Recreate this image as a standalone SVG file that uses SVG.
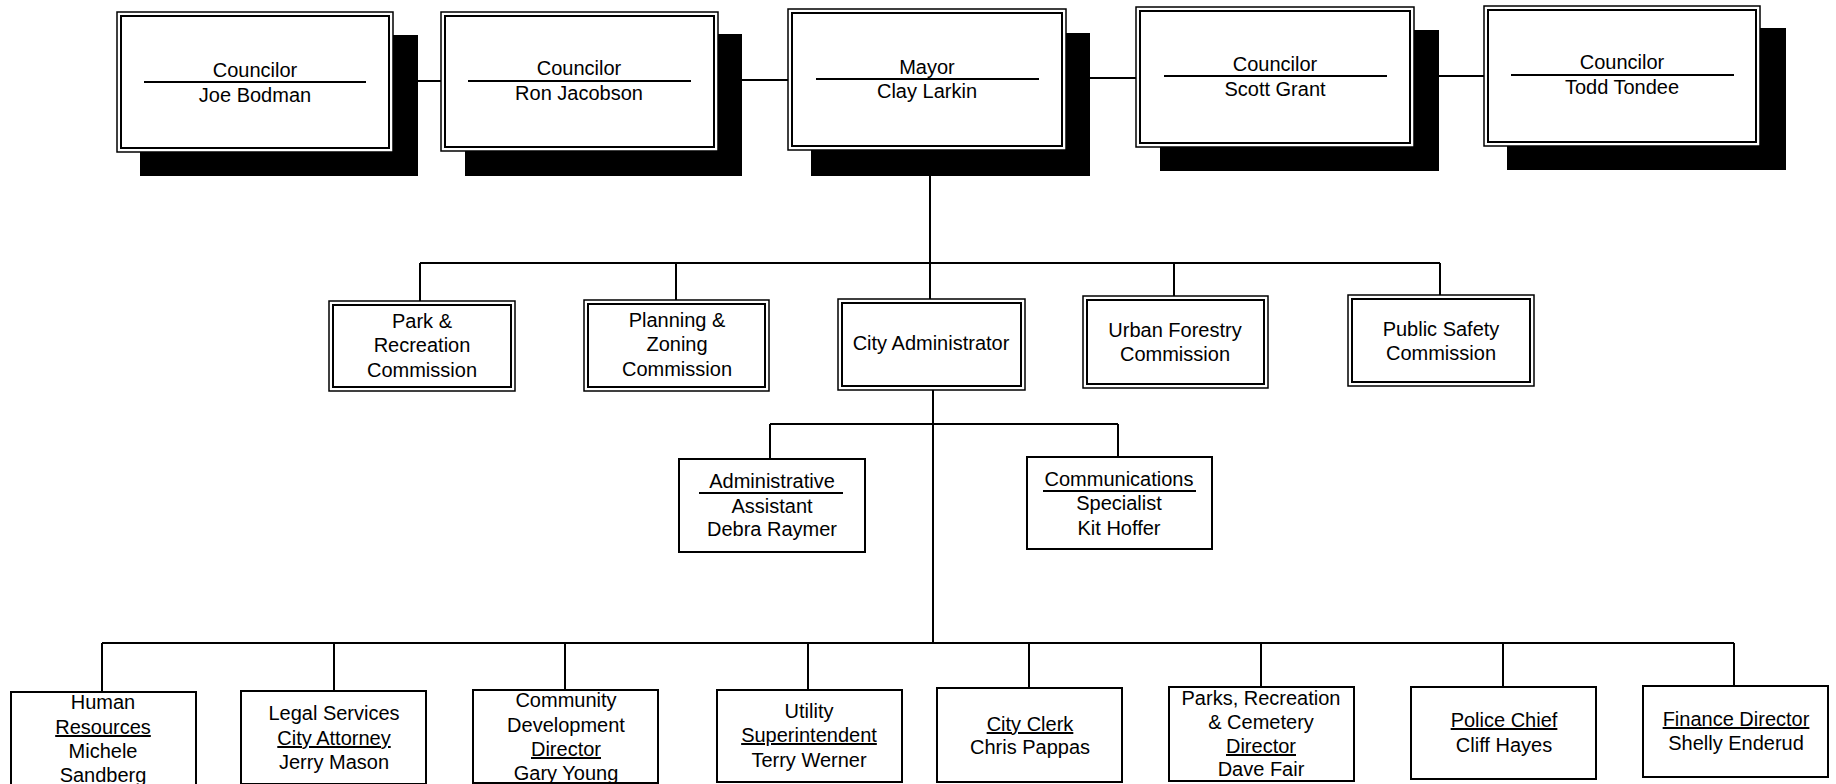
<svg xmlns="http://www.w3.org/2000/svg" width="1836" height="784" viewBox="0 0 1836 784">
<style>
.bg{fill:#fff}
.shadow{fill:#000}
.outer{fill:#fff;stroke:#000;stroke-width:1.5}
.inner{fill:none;stroke:#000;stroke-width:2}
.box{fill:#fff;stroke:#000;stroke-width:2}
.rule{stroke:#000;stroke-width:2}
.conn{fill:none;stroke:#000;stroke-width:2}
text{font-family:"Liberation Sans",Arial,sans-serif;font-size:20px;fill:#000;text-anchor:middle}
.u{text-decoration:underline}
</style>
<rect class="bg" x="0" y="0" width="1836" height="784"/>
<g id="connectors">
<line class="conn" x1="393" y1="81" x2="441" y2="81"/>
<line class="conn" x1="718" y1="80" x2="788" y2="80"/>
<line class="conn" x1="1066" y1="78" x2="1136" y2="78"/>
<line class="conn" x1="1414" y1="76" x2="1484" y2="76"/>
<line class="conn" x1="930" y1="176" x2="930" y2="263"/>
<line class="conn" x1="420" y1="263" x2="1440" y2="263"/>
<line class="conn" x1="420" y1="263" x2="420" y2="301"/>
<line class="conn" x1="676" y1="263" x2="676" y2="300"/>
<line class="conn" x1="930" y1="263" x2="930" y2="299"/>
<line class="conn" x1="1174" y1="263" x2="1174" y2="296"/>
<line class="conn" x1="1440" y1="263" x2="1440" y2="295"/>
<line class="conn" x1="933" y1="390" x2="933" y2="643"/>
<line class="conn" x1="770" y1="424" x2="1118" y2="424"/>
<line class="conn" x1="770" y1="424" x2="770" y2="459"/>
<line class="conn" x1="1118" y1="424" x2="1118" y2="457"/>
<line class="conn" x1="102" y1="643" x2="1734" y2="643"/>
<line class="conn" x1="102" y1="643" x2="102" y2="692"/>
<line class="conn" x1="334" y1="643" x2="334" y2="691"/>
<line class="conn" x1="565" y1="643" x2="565" y2="690"/>
<line class="conn" x1="808" y1="643" x2="808" y2="690"/>
<line class="conn" x1="1029" y1="643" x2="1029" y2="688"/>
<line class="conn" x1="1261" y1="643" x2="1261" y2="687"/>
<line class="conn" x1="1503" y1="643" x2="1503" y2="687"/>
<line class="conn" x1="1734" y1="643" x2="1734" y2="686"/>
</g>
<g id="councilor-joe-bodman">
<rect class="shadow" x="140" y="35" width="278" height="141"/>
<rect class="outer" x="117" y="12" width="276" height="140"/>
<rect class="inner" x="121" y="16" width="268" height="132"/>
<text x="255" y="77">Councilor</text>
<line class="rule" x1="144" y1="82" x2="366" y2="82"/>
<text x="255" y="102">Joe Bodman</text>
</g>
<g id="councilor-ron-jacobson">
<rect class="shadow" x="465" y="34" width="277" height="142"/>
<rect class="outer" x="441" y="12" width="277" height="139"/>
<rect class="inner" x="445" y="16" width="269" height="131"/>
<text x="579" y="75">Councilor</text>
<line class="rule" x1="468" y1="81" x2="691" y2="81"/>
<text x="579" y="100">Ron Jacobson</text>
</g>
<g id="mayor-clay-larkin">
<rect class="shadow" x="811" y="33" width="279" height="143"/>
<rect class="outer" x="788" y="9" width="278" height="141"/>
<rect class="inner" x="792" y="13" width="270" height="133"/>
<text x="927" y="74">Mayor</text>
<line class="rule" x1="816" y1="79" x2="1039" y2="79"/>
<text x="927" y="98">Clay Larkin</text>
</g>
<g id="councilor-scott-grant">
<rect class="shadow" x="1160" y="30" width="279" height="141"/>
<rect class="outer" x="1136" y="7" width="278" height="140"/>
<rect class="inner" x="1140" y="11" width="270" height="132"/>
<text x="1275" y="71">Councilor</text>
<line class="rule" x1="1164" y1="76" x2="1387" y2="76"/>
<text x="1275" y="96">Scott Grant</text>
</g>
<g id="councilor-todd-tondee">
<rect class="shadow" x="1507" y="28" width="279" height="142"/>
<rect class="outer" x="1484" y="6" width="276" height="140"/>
<rect class="inner" x="1488" y="10" width="268" height="132"/>
<text x="1622" y="69">Councilor</text>
<line class="rule" x1="1511" y1="75" x2="1734" y2="75"/>
<text x="1622" y="94">Todd Tondee</text>
</g>
<g id="park-recreation-commission">
<rect class="outer" x="329" y="301" width="186" height="90"/>
<rect class="inner" x="333" y="305" width="178" height="82"/>
<text x="422" y="328">Park &amp;</text>
<text x="422" y="352">Recreation</text>
<text x="422" y="377">Commission</text>
</g>
<g id="planning-zoning-commission">
<rect class="outer" x="584" y="300" width="185" height="91"/>
<rect class="inner" x="588" y="304" width="177" height="83"/>
<text x="677" y="327">Planning &amp;</text>
<text x="677" y="351">Zoning</text>
<text x="677" y="376">Commission</text>
</g>
<g id="city-administrator">
<rect class="outer" x="838" y="299" width="187" height="91"/>
<rect class="inner" x="842" y="303" width="179" height="83"/>
<text x="931" y="350">City Administrator</text>
</g>
<g id="urban-forestry-commission">
<rect class="outer" x="1083" y="296" width="185" height="92"/>
<rect class="inner" x="1087" y="300" width="177" height="84"/>
<text x="1175" y="337">Urban Forestry</text>
<text x="1175" y="361">Commission</text>
</g>
<g id="public-safety-commission">
<rect class="outer" x="1348" y="295" width="186" height="91"/>
<rect class="inner" x="1352" y="299" width="178" height="83"/>
<text x="1441" y="336">Public Safety</text>
<text x="1441" y="360">Commission</text>
</g>
<g id="administrative-assistant">
<rect class="box" x="679" y="459" width="186" height="93"/>
<text x="772" y="488">Administrative</text>
<line class="rule" x1="699" y1="493" x2="843" y2="493"/>
<text x="772" y="513">Assistant</text>
<text x="772" y="536">Debra Raymer</text>
</g>
<g id="communications-specialist">
<rect class="box" x="1027" y="457" width="185" height="92"/>
<text x="1119" y="486">Communications</text>
<line class="rule" x1="1043" y1="491" x2="1196" y2="491"/>
<text x="1119" y="510">Specialist</text>
<text x="1119" y="535">Kit Hoffer</text>
</g>
<g id="human-resources">
<rect class="box" x="11" y="692" width="185" height="96"/>
<text x="103" y="709">Human</text>
<text class="u" x="103" y="734">Resources</text>
<text x="103" y="758">Michele</text>
<text x="103" y="782">Sandberg</text>
</g>
<g id="legal-services">
<rect class="box" x="241" y="691" width="185" height="93"/>
<text x="334" y="720">Legal Services</text>
<text class="u" x="334" y="745">City Attorney</text>
<text x="334" y="769">Jerry Mason</text>
</g>
<g id="community-development">
<rect class="box" x="473" y="690" width="185" height="93"/>
<text x="566" y="707">Community</text>
<text x="566" y="732">Development</text>
<text class="u" x="566" y="756">Director</text>
<text x="566" y="780">Gary Young</text>
</g>
<g id="utility-superintendent">
<rect class="box" x="717" y="690" width="185" height="92"/>
<text x="809" y="718">Utility</text>
<text class="u" x="809" y="742">Superintendent</text>
<text x="809" y="767">Terry Werner</text>
</g>
<g id="city-clerk">
<rect class="box" x="937" y="688" width="185" height="94"/>
<text class="u" x="1030" y="731">City Clerk</text>
<text x="1030" y="754">Chris Pappas</text>
</g>
<g id="parks-recreation-cemetery">
<rect class="box" x="1169" y="687" width="185" height="94"/>
<text x="1261" y="705">Parks, Recreation</text>
<text x="1261" y="729">&amp; Cemetery</text>
<text class="u" x="1261" y="753">Director</text>
<text x="1261" y="776">Dave Fair</text>
</g>
<g id="police-chief">
<rect class="box" x="1411" y="687" width="185" height="92"/>
<text class="u" x="1504" y="727">Police Chief</text>
<text x="1504" y="752">Cliff Hayes</text>
</g>
<g id="finance-director">
<rect class="box" x="1643" y="686" width="185" height="91"/>
<text class="u" x="1736" y="726">Finance Director</text>
<text x="1736" y="750">Shelly Enderud</text>
</g>
</svg>
